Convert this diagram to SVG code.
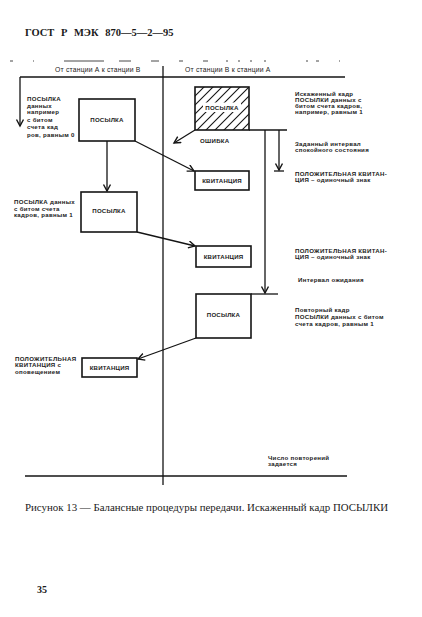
<svg xmlns="http://www.w3.org/2000/svg" width="422" height="617" viewBox="0 0 422 617">
<style>
.ln{stroke:#141414;stroke-width:1.3;fill:none}
.bx{stroke:#141414;stroke-width:1.6;fill:#fff}
.t{font-family:"Liberation Sans",Arial,sans-serif;font-weight:bold;font-size:6.1px;letter-spacing:0.3px;fill:#1a1a1a}
.h{font-family:"Liberation Sans",Arial,sans-serif;font-size:6.8px;letter-spacing:0.2px;fill:#1a1a1a}
.bl{font-family:"Liberation Sans",Arial,sans-serif;font-weight:bold;font-size:6.1px;letter-spacing:0.2px;fill:#1a1a1a;text-anchor:middle}
.s{font-family:"Liberation Serif","Times New Roman",serif;fill:#1a1a1a}
</style>
<defs>
<marker id="ar" markerUnits="userSpaceOnUse" markerWidth="10" markerHeight="10" refX="7" refY="4" orient="auto">
<path d="M0.5,0.5 L7,4 L0.5,7.5" fill="none" stroke="#141414" stroke-width="1.4"/>
</marker>
<pattern id="hatch" patternUnits="userSpaceOnUse" x="195" y="87" width="9" height="9">
<path d="M0,9 L9,0 M-2,2 L2,-2 M7,11 L11,7" stroke="#141414" stroke-width="1.1" fill="none"/>
</pattern>
</defs>
<rect width="422" height="617" fill="#fff"/>

<text class="s" x="25" y="36" font-size="10.5" font-weight="bold" word-spacing="4">ГОСТ Р МЭК 870—5—2—95</text>

<g id="frame">
<line x1="10" y1="61" x2="345" y2="61" stroke="#333" stroke-width="0.9" stroke-dasharray="3 20 1 30 40 15 12 20 8 20 4 20 5 18 2 10 2 10 2 12 2 40 2 8"/>
<text class="h" x="55" y="71.5">От станции А к станции В</text>
<text class="h" x="185" y="71.5">От станции В к станции А</text>
<line class="ln" x1="163" y1="66" x2="163" y2="485"/>
<line class="ln" x1="20" y1="77" x2="345" y2="77"/>
<line class="ln" x1="25" y1="476" x2="347" y2="476"/>
</g>

<g id="connectors">
<line class="ln" x1="20" y1="77" x2="20" y2="126" marker-end="url(#ar)"/>
<line class="ln" x1="107" y1="141" x2="107" y2="191" marker-end="url(#ar)"/>
<line class="ln" x1="135" y1="141" x2="194" y2="171" marker-end="url(#ar)"/>
<line class="ln" x1="137" y1="232" x2="195" y2="246" marker-end="url(#ar)"/>
<line class="ln" x1="195" y1="130" x2="174" y2="143" marker-end="url(#ar)"/>
<line class="ln" x1="249" y1="130" x2="287" y2="130"/>
<line class="ln" x1="279" y1="130" x2="279" y2="170" marker-end="url(#ar)"/>
<line class="ln" x1="274" y1="171" x2="284" y2="171"/>
<line class="ln" x1="265" y1="130" x2="265" y2="293" marker-end="url(#ar)"/>
<line class="ln" x1="251" y1="294" x2="278" y2="294"/>
<line class="ln" x1="196" y1="338" x2="138" y2="359" marker-end="url(#ar)"/>
</g>

<g id="send1">
<rect class="bx" x="79" y="99" width="56" height="42"/>
<text class="bl" x="107" y="122">ПОСЫЛКА</text>
</g>
<g id="send2">
<rect class="bx" x="81" y="192" width="56" height="40"/>
<text class="bl" x="109" y="213">ПОСЫЛКА</text>
</g>
<g id="corrupt">
<rect x="195" y="87" width="54" height="43" fill="url(#hatch)" stroke="#141414" stroke-width="1.6"/>
<rect x="203" y="102.5" width="38" height="9.5" fill="#fff"/>
<text class="bl" x="222" y="110">ПОСЫЛКА</text>
<text class="t" x="200" y="143">ОШИБКА</text>
</g>
<g id="ack1">
<rect class="bx" x="195" y="171" width="54" height="19"/>
<text class="bl" x="222" y="182.5">КВИТАНЦИЯ</text>
</g>
<g id="ack2">
<rect class="bx" x="196" y="246" width="55" height="21"/>
<text class="bl" x="223.5" y="258.5">КВИТАНЦИЯ</text>
</g>
<g id="send3">
<rect class="bx" x="196" y="294" width="55" height="44"/>
<text class="bl" x="223.5" y="317">ПОСЫЛКА</text>
</g>
<g id="ack3">
<rect class="bx" x="82" y="358" width="55" height="19"/>
<text class="bl" x="109.5" y="369.5">КВИТАНЦИЯ</text>
</g>

<g id="labels">
<text class="t" x="27" y="101">ПОСЫЛКА</text>
<text class="t" x="27" y="107.5">данных</text>
<text class="t" x="27" y="114">например</text>
<text class="t" x="27" y="121.5">с битом</text>
<text class="t" x="27" y="129">счета кад</text>
<text class="t" x="27" y="136.5">ров, равным 0</text>

<text class="t" x="14" y="204">ПОСЫЛКА данных</text>
<text class="t" x="14" y="210.7">с битом счета</text>
<text class="t" x="14" y="217.4">кадров, равным 1</text>

<text class="t" x="15" y="361">ПОЛОЖИТЕЛЬНАЯ</text>
<text class="t" x="15" y="367.3">КВИТАНЦИЯ с</text>
<text class="t" x="15" y="373.6">оповещением</text>

<text class="t" x="295" y="96">Искаженный кадр</text>
<text class="t" x="295" y="102">ПОСЫЛКИ данных с</text>
<text class="t" x="295" y="108">битом счета кадров,</text>
<text class="t" x="295" y="114">например, равным 1</text>

<text class="t" x="295" y="146">Заданный интервал</text>
<text class="t" x="295" y="152">спокойного состояния</text>

<text class="t" x="295" y="175.5">ПОЛОЖИТЕЛЬНАЯ КВИТАН-</text>
<text class="t" x="295" y="182">ЦИЯ – одиночный знак</text>

<text class="t" x="295" y="252.5">ПОЛОЖИТЕЛЬНАЯ КВИТАН-</text>
<text class="t" x="295" y="259">ЦИЯ – одиночный знак</text>

<text class="t" x="298" y="282">Интервал ожидания</text>

<text class="t" x="295" y="312">Повторный кадр</text>
<text class="t" x="295" y="319">ПОСЫЛКИ данных с битом</text>
<text class="t" x="295" y="326">счета кадров, равным 1</text>

<text class="t" x="268" y="459.5">Число повторений</text>
<text class="t" x="268" y="466">задается</text>
</g>

<text class="s" x="25" y="511" font-size="10.5" textLength="363" lengthAdjust="spacingAndGlyphs">Рисунок 13 — Балансные процедуры передачи. Искаженный кадр ПОСЫЛКИ</text>
<text class="s" x="37" y="593" font-size="10" font-weight="bold">35</text>
</svg>
